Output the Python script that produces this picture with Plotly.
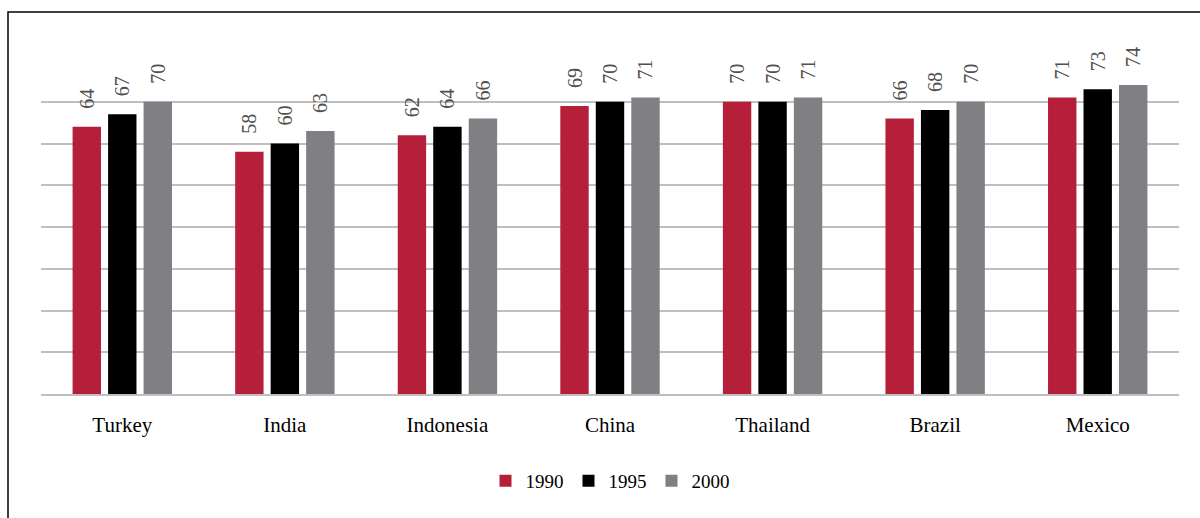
import plotly.graph_objects as go

countries = ["Turkey", "India", "Indonesia", "China", "Thailand", "Brazil", "Mexico"]
years = ["1990", "1995", "2000"]
v1990 = [64, 58, 62, 69, 70, 66, 71]
v1995 = [67, 60, 64, 70, 70, 68, 73]
v2000 = [70, 63, 66, 71, 71, 70, 74]
series = [v1990, v1995, v2000]
colors = ["#B51F3A", "#000000", "#7F7F84"]

W, H = 1200, 518
ML, MR, MT, MB = 41, 21, 60, 124
PW, PH = W - ML - MR, H - MT - MB

def px_x(px):
    return (px - ML) / PW

def px_y(py):
    return (H - MB - py) / PH

FONT = "Liberation Serif, DejaVu Serif, serif"

fig = go.Figure()
for name, vals, col in zip(years, series, colors):
    fig.add_trace(go.Bar(
        x=countries, y=vals, name=name, showlegend=False,
        marker=dict(color=col, line=dict(width=0)),
        texttemplate="\u00a0\u00a0\u00a0%{y}", textposition="outside",
        textangle=-90, constraintext="none", cliponaxis=False,
        textfont=dict(family=FONT, size=20, color="#505050"),
        outsidetextfont=dict(family=FONT, size=20, color="#505050"),
    ))
for name, col in zip(years, colors):
    fig.add_trace(go.Scatter(
        x=[countries[0]], y=[None], name=name, mode="markers",
        marker=dict(symbol="square", size=16, color=col),
        showlegend=True,
    ))

fig.update_layout(
    width=W, height=H,
    margin=dict(l=ML, r=MR, t=MT, b=MB),
    paper_bgcolor="white", plot_bgcolor="white",
    barmode="group", bargap=0.345, bargroupgap=0.2,
    font=dict(family=FONT, color="#000000"),
    legend=dict(orientation="h", x=0.5, xanchor="center",
                y=px_y(481), yanchor="middle",
                font=dict(family=FONT, size=19, color="#000000"),
                itemsizing="constant"),
    xaxis=dict(showgrid=False, showline=True, linecolor="#BFBFBF", linewidth=2,
               tickfont=dict(family=FONT, size=21, color="#000000"),
               ticks="", ticklabelstandoff=11),
    yaxis=dict(range=[0, 80], dtick=10, showgrid=True, gridcolor="#BFBFBF",
               gridwidth=1.5, showticklabels=False, zeroline=False, showline=False),
    shapes=[dict(type="rect", xref="paper", yref="paper",
                 x0=px_x(8), x1=px_x(1260), y0=px_y(560), y1=px_y(12),
                 line=dict(color="#000000", width=1.5), layer="above")],
)

fig.write_html("out.html")
